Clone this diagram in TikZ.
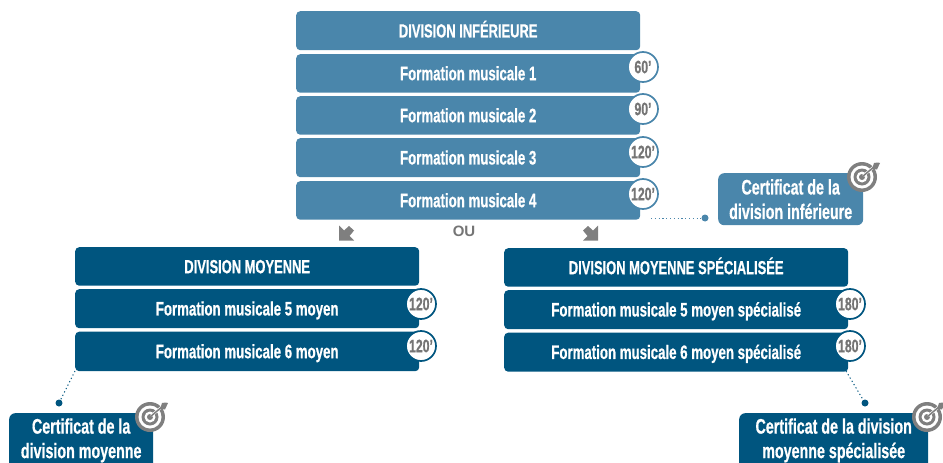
\documentclass[tikz,border=0pt]{standalone}
\usepackage{fontspec}
\setmainfont[FakeStretch=0.68,BoldFont={Liberation Sans Bold},BoldFeatures={FakeBold=0.6}]{Liberation Sans}
\newfontfamily\oufont{Liberation Sans Bold}
\definecolor{lightblue}{HTML}{4A86AB}
\definecolor{darkblue}{HTML}{00557F}
\definecolor{greyicon}{HTML}{7F7F7F}
\definecolor{timetext}{HTML}{757575}
\tikzset{
  x=1pt,y=-1pt,
  rowbox/.style={rounded corners=4pt,inner sep=0pt,anchor=north west,align=center,text=white,text height=17pt,text depth=3.5pt,font=\bfseries\fontsize{19.5}{21}\selectfont},
  lightrow/.style={rowbox,fill=lightblue},
  darkrow/.style={rowbox,fill=darkblue},
  titlefont/.style={font=\bfseries\fontsize{19}{21}\selectfont},
  certbox/.style={rounded corners=6pt,inner sep=0pt,anchor=north west,text=white,font=\bfseries\fontsize{21}{24.5}\selectfont},
  timeb/.style={circle,draw=#1,line width=1.7pt,fill=white,minimum size=30pt,inner sep=0pt,text=timetext,font=\bfseries\fontsize{18}{20}\selectfont},
  dotnode/.style={circle,fill=#1,minimum size=7pt,inner sep=0pt},
  dotline/.style={draw=#1,line width=1pt,dash pattern=on 1.2pt off 2.6pt},
  gotarrow/.pic={\fill[greyicon] (0,0)--(0,15)--(15,15)--(10.5,10.5)--(15,5)--(10,0.5)--(5,5)--cycle;},
  target/.pic={
    \fill[greyicon] (0,0) circle (15);
    \fill[white] (0,0) circle (11.5);
    \fill[greyicon] (0,0) circle (8.5);
    \fill[white] (0,0) circle (5.5);
    \fill[greyicon] (0,0) circle (3);
    \draw[white,line width=2.6pt] (1,-1)--(14,-12);
    \draw[greyicon,line width=1.5pt] (0,0)--(13,-11);
    \fill[greyicon] (10,-8)--(12,-14)--(15.5,-14.5)--(18,-14)--(15,-7.5)--cycle;
  }
}
\newcommand{\rowbox}[6]{\node[#1,minimum width=#4pt,minimum height=#5pt] (#2) at (#3) {#6};}
\begin{document}
\begin{tikzpicture}
\useasboundingbox (0,0) rectangle (943,463);
\clip (0,0) rectangle (943,463);
% Division inferieure
\rowbox{lightrow,titlefont}{a0}{296,11}{344}{39}{DIVISION INFÉRIEURE}
\rowbox{lightrow}{a1}{296,54}{344}{38.5}{Formation musicale 1}
\rowbox{lightrow}{a2}{296,96}{344}{38.5}{Formation musicale 2}
\rowbox{lightrow}{a3}{296,138}{344}{39}{Formation musicale 3}
\rowbox{lightrow}{a4}{296,181}{344}{38.5}{Formation musicale 4}
\node[timeb=lightblue] (t1) at (643,67) {60'};
\node[timeb=lightblue] (t2) at (643,109) {90'};
\node[timeb=lightblue] (t3) at (643,152) {120'};
\node[timeb=lightblue] (t4) at (643,194) {120'};
% Division moyenne
\rowbox{darkrow,titlefont}{b0}{75,247}{344}{38.5}{DIVISION MOYENNE}
\rowbox{darkrow}{b1}{75,289}{344}{39}{Formation musicale 5 moyen}
\rowbox{darkrow}{b2}{75,331.5}{344}{39.5}{Formation musicale 6 moyen}
\node[timeb=darkblue] (t5) at (421,304) {120'};
\node[timeb=darkblue] (t6) at (421,346) {120'};
% Division moyenne specialisee
\rowbox{darkrow,titlefont}{c0}{504,248}{344}{38.5}{DIVISION MOYENNE SPÉCIALISÉE}
\rowbox{darkrow}{c1}{504,290}{344}{39}{Formation musicale 5 moyen spécialisé}
\rowbox{darkrow}{c2}{504,332.5}{344}{39}{Formation musicale 6 moyen spécialisé}
\node[timeb=darkblue] (t7) at (850,304) {180'};
\node[timeb=darkblue] (t8) at (850,346) {180'};
% Certificats
\node[certbox,fill=lightblue,minimum width=145pt,minimum height=52pt,align=center] (d1) at (718,173) {Certificat de la\\division inférieure};
\node[certbox,fill=darkblue,minimum width=144pt,minimum height=78pt,align=center] (d2) at (9,413) {\strut Certificat de la\\\strut division moyenne\\[-2pt]\strut};
\node[certbox,fill=darkblue,minimum width=189pt,minimum height=78pt,align=center] (d3) at (739,413) {\strut Certificat de la division\\\strut moyenne spécialisée\\[-2pt]\strut};
\pic at (862,177) {target};
\pic at (150,417) {target};
\pic at (927,417) {target};
% Dotted connectors
\node[dotnode=lightblue] (p1) at (705,218) {};
\node[dotnode=darkblue] (p2) at (59,403) {};
\node[dotnode=darkblue] (p3) at (865,403) {};
\coordinate (s1) at (651,218);
\coordinate (s2) at (75,371);
\coordinate (s3) at (846,371);
\draw[dotline=lightblue] (s1) -- (p1);
\draw[dotline=darkblue] (s2) -- (p2);
\draw[dotline=darkblue] (s3) -- (p3);
% OU and arrows
\node[inner sep=0pt,text=timetext,font=\oufont\fontsize{15}{17}\selectfont] (ou) at (464,231) {OU};
\pic at (339,225.5) {gotarrow};
\pic[xscale=-1] at (598,225.5) {gotarrow};
\end{tikzpicture}
\end{document}
